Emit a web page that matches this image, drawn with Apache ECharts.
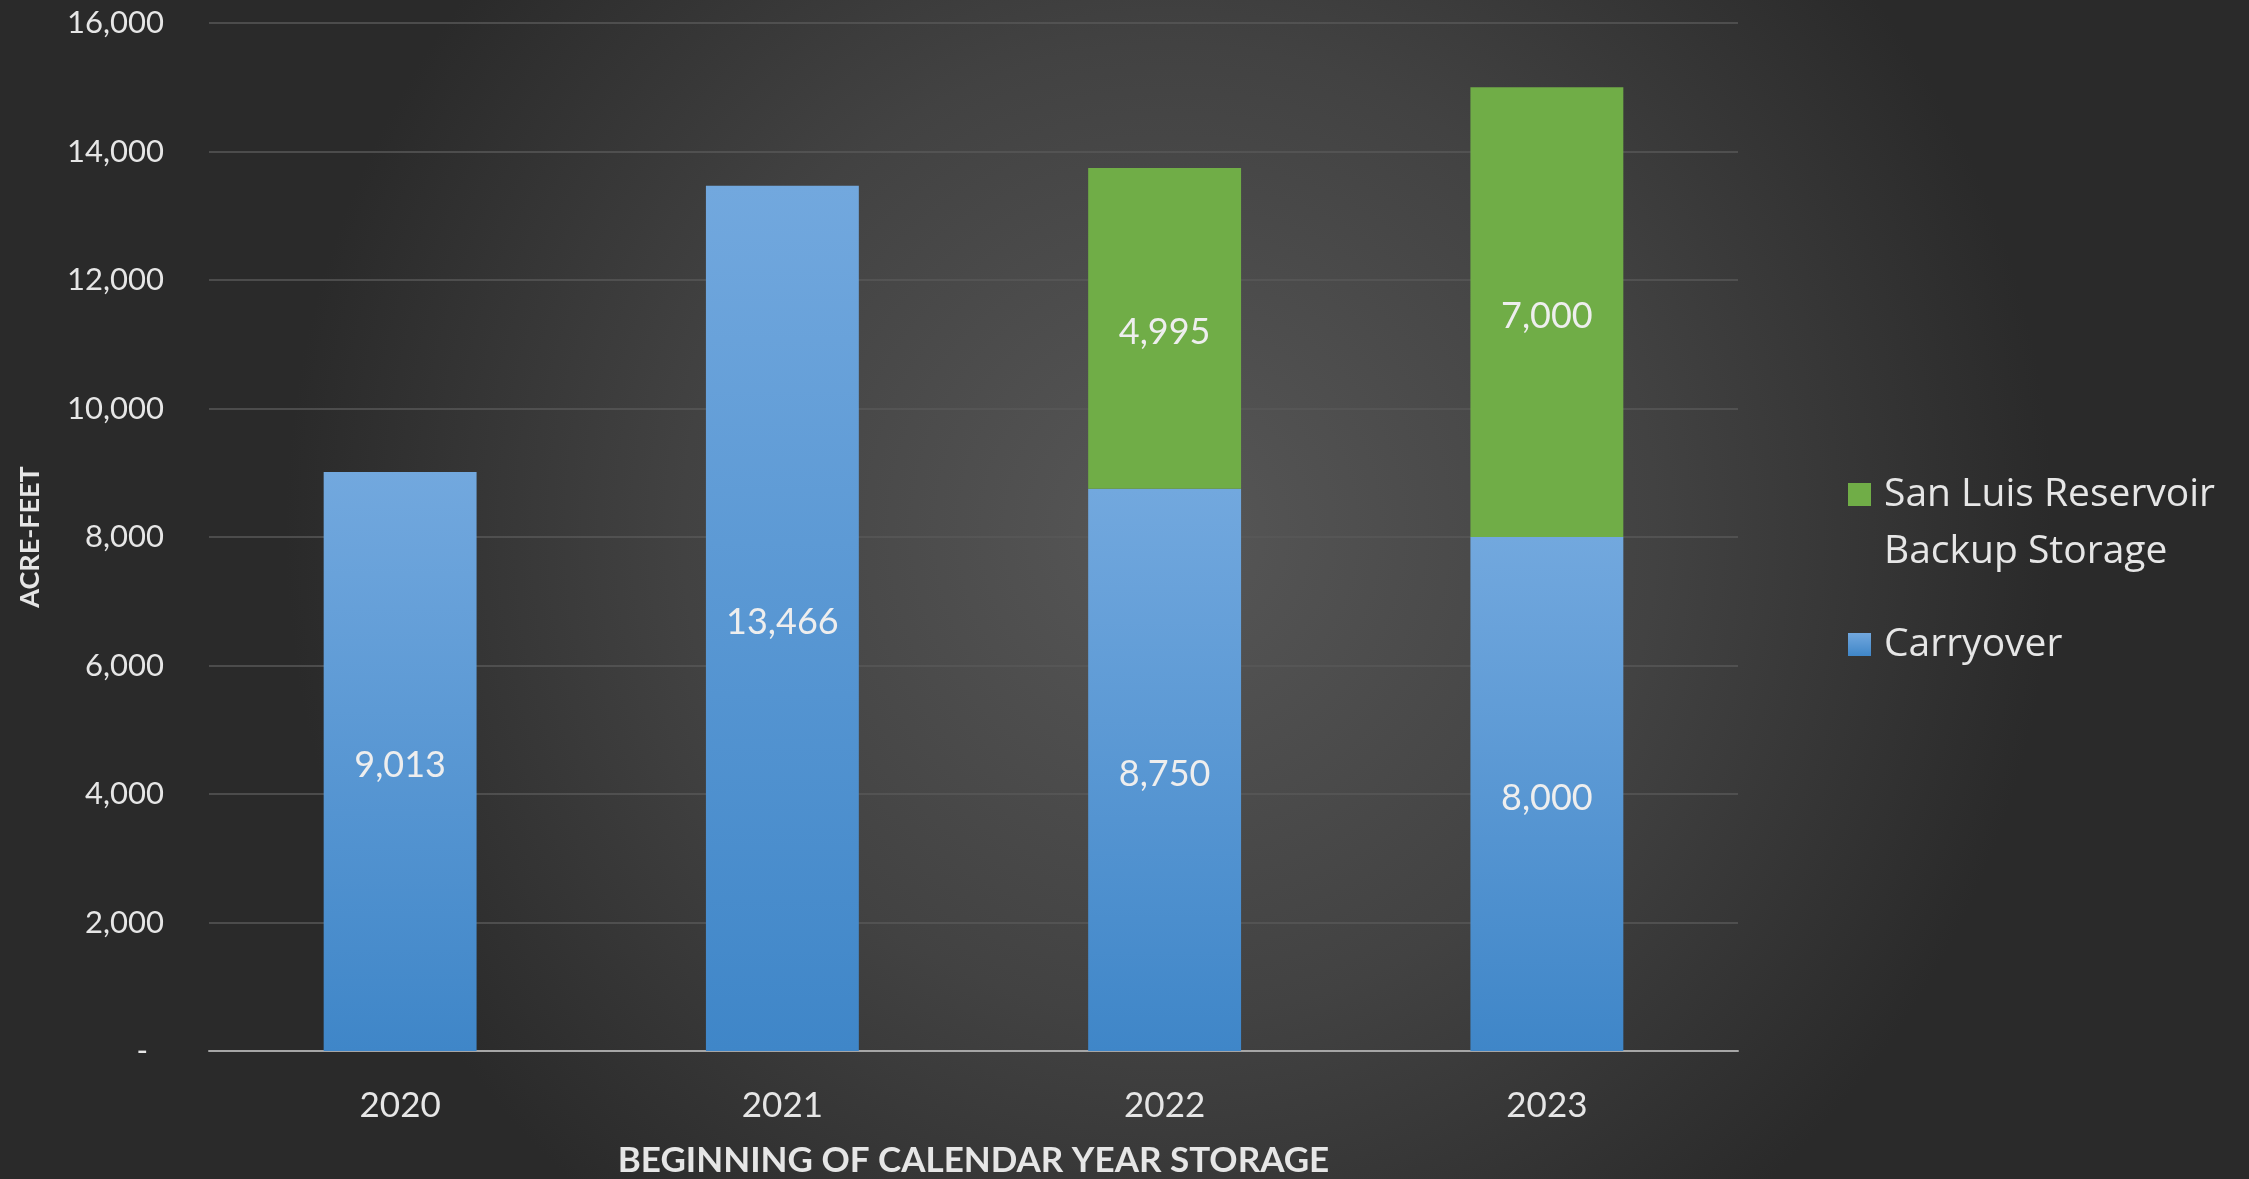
<!DOCTYPE html>
<html>
<head>
<meta charset="utf-8">
<script src="https://cdn.jsdelivr.net/npm/echarts@6/dist/echarts.min.js"></script>
<style>
html,body{margin:0;padding:0;width:2249px;height:1179px;overflow:hidden;background:#2f2f2f;}
#c{width:2249px;height:1179px;}
</style>
</head>
<body>
<div id="c"></div>
<script>
const categories = ['2020', '2021', '2022', '2023'];
const carryover = [9013, 13466, 8750, 8000];
const sanLuis = [null, null, 4995, 7000];
const yTicks = [0, 2000, 4000, 6000, 8000, 10000, 12000, 14000, 16000];

const FONT = 'Lato, "Open Sans", sans-serif';
const LEGFONT = '"Open Sans", Lato, sans-serif';
const fmt = v => v.toLocaleString('en-US');

const chart = echarts.init(document.getElementById('c'));
chart.setOption({
  backgroundColor: {
    type: 'radial', x: 0.52, y: 0.45, r: 0.75,
    colorStops: [
      {offset: 0, color: '#575757'},
      {offset: 0.55, color: '#424242'},
      {offset: 1, color: '#2a2a2a'}
    ]
  },
  animation: false,
  textStyle: {fontFamily: FONT},
  grid: {left: 209, right: 511, top: 23, bottom: 128, containLabel: false, outerBoundsMode: 'none'},
  legend: {
    orient: 'vertical',
    left: 1843,
    top: 404,
    itemWidth: 23,
    itemHeight: 23,
    itemGap: 36,
    icon: 'rect',
    data: ['San Luis Reservoir Backup Storage', 'Carryover'],
    formatter: name => name === 'Carryover' ? 'Carryover' : '\nSan Luis Reservoir\nBackup Storage',
    textStyle: {color: '#e6e6e6', fontSize: 39, lineHeight: 57, fontFamily: LEGFONT, padding: [0, 0, 0, 8]}
  },
  xAxis: {
    type: 'category',
    data: categories,
    axisTick: {show: false},
    axisLine: {lineStyle: {color: '#a6a6a6', width: 2}},
    axisLabel: {color: '#e6e6e6', fontSize: 35, margin: 37, fontFamily: FONT},
    name: 'BEGINNING OF CALENDAR YEAR STORAGE',
    nameLocation: 'middle',
    nameGap: 92,
    nameTextStyle: {color: '#e6e6e6', fontSize: 35, fontWeight: 'bold', fontFamily: FONT}
  },
  yAxis: {
    type: 'value',
    min: yTicks[0],
    max: yTicks[yTicks.length - 1],
    interval: 2000,
    axisLine: {show: false},
    axisTick: {show: false},
    splitLine: {lineStyle: {color: '#585858', width: 1.5}},
    axisLabel: {
      color: '#e6e6e6', fontSize: 31, margin: 45, fontFamily: FONT,
      formatter: v => v === 0 ? '{d|-}' : fmt(v),
      rich: {d: {color: '#e6e6e6', fontSize: 31, padding: [0, 16, 0, 0], fontFamily: FONT}}
    },
    name: 'ACRE-FEET',
    nameLocation: 'middle',
    nameGap: 165,
    nameTextStyle: {color: '#e6e6e6', fontSize: 27, fontWeight: 'bold', fontFamily: FONT}
  },
  series: [
    {
      name: 'Carryover',
      type: 'bar',
      stack: 'total',
      barWidth: '40%',
      data: carryover,
      itemStyle: {
        color: {
          type: 'linear', x: 0, y: 0, x2: 0, y2: 1,
          colorStops: [{offset: 0, color: '#72a8de'}, {offset: 1, color: '#3f86c8'}]
        }
      },
      label: {show: true, position: 'inside', offset: [0, 4], color: '#eeeeee', fontSize: 36, fontFamily: FONT, formatter: p => fmt(p.value)}
    },
    {
      name: 'San Luis Reservoir Backup Storage',
      type: 'bar',
      stack: 'total',
      barWidth: '40%',
      data: sanLuis,
      itemStyle: {color: '#70ad47'},
      label: {show: true, position: 'inside', offset: [0, 4], color: '#eeeeee', fontSize: 36, fontFamily: FONT, formatter: p => p.value == null ? '' : fmt(p.value)}
    }
  ]
});
</script>
</body>
</html>
